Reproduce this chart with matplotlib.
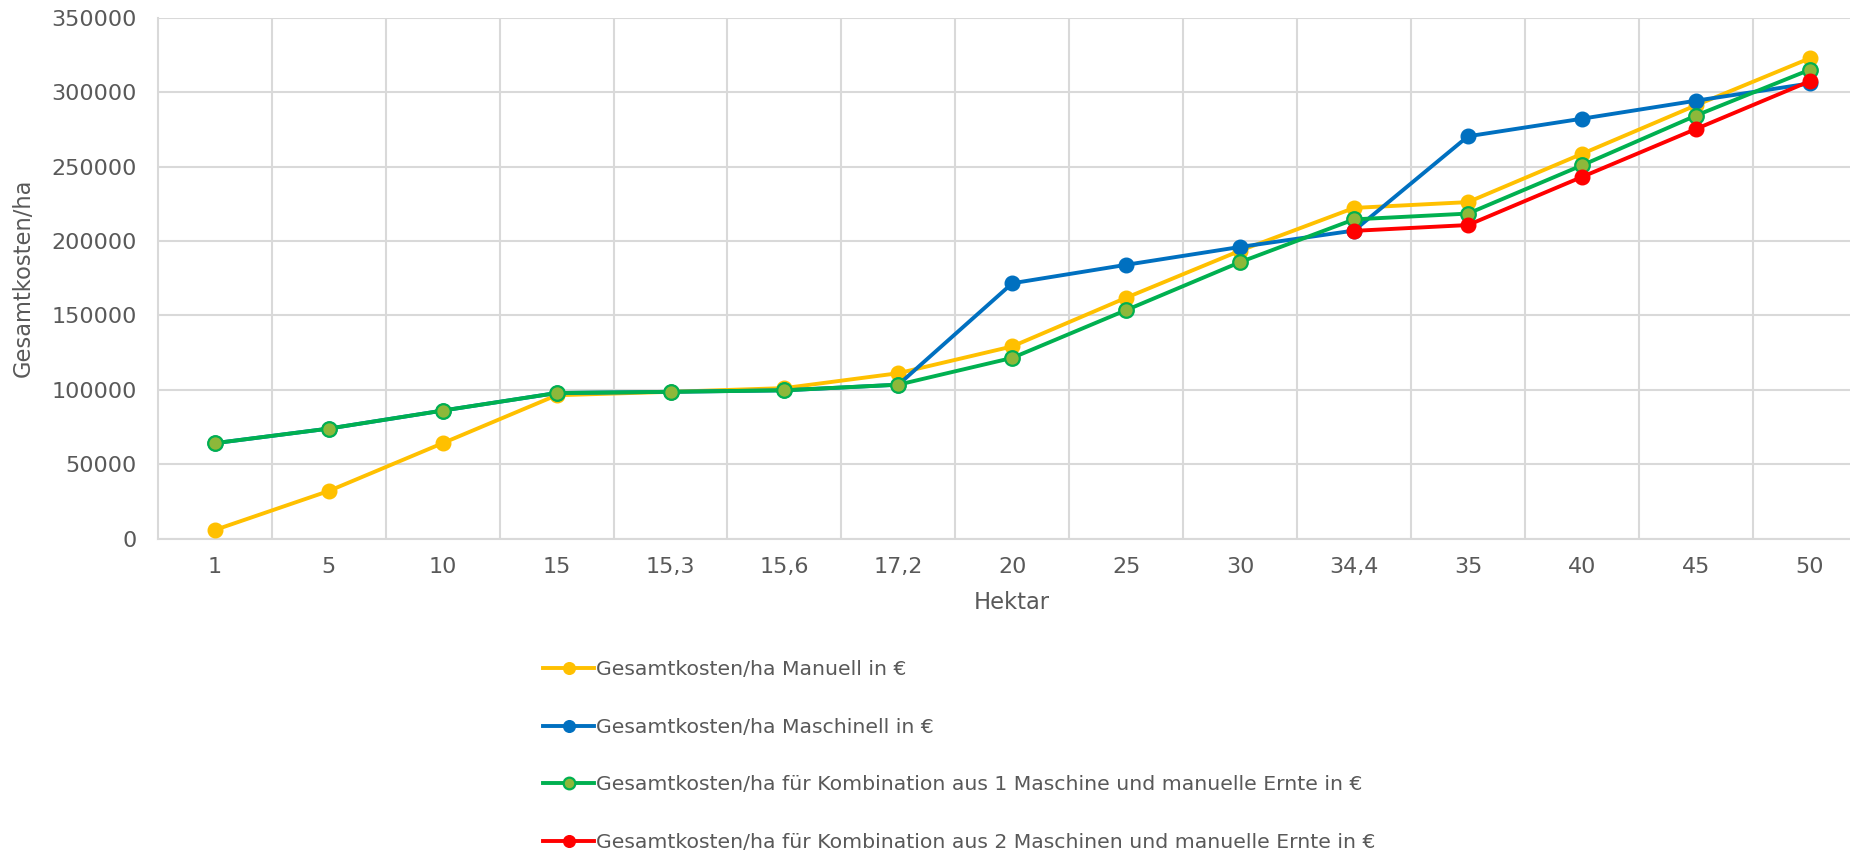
import matplotlib.pyplot as plt
import numpy as np

# Hektar-Kategorien und Gesamtkosten je Variante
hektar = ["1", "5", "10", "15", "15,3", "15,6", "17,2", "20", "25", "30", "34,4", "35", "40", "45", "50"]
manuell = [5900, 32100, 64200, 96400, 98700, 101200, 111200, 129200, 161900, 193500, 222200, 226100, 258500, 291100, 322700]
maschinell = [64200, 74000, 86100, 97900, 98700, 99700, 103500, 171600, 184000, 196000, 207000, 270300, 282100, 294200, 305800]
kombi_1 = [64200, 74000, 86100, 97900, 98700, 99700, 103500, 121500, 153600, 185800, 214500, 218400, 250800, 284200, 315000]
kombi_2 = [np.nan] * 10 + [206800, 210700, 243000, 275200, 307300]

labels = [
    "Gesamtkosten/ha Manuell in €",
    "Gesamtkosten/ha Maschinell in €",
    "Gesamtkosten/ha für Kombination aus 1 Maschine und manuelle Ernte in €",
    "Gesamtkosten/ha für Kombination aus 2 Maschinen und manuelle Ernte in €",
]

plt.rcParams['font.family'] = ['DejaVu Sans']
text_color = '#595959'
grid_color = '#D9D9D9'

fig = plt.figure(figsize=(18.5, 8.57), dpi=100)
ax = fig.add_axes([157.8 / 1850, 1 - 538.8 / 857, 1709 / 1850, 521.2 / 857])

x = np.arange(len(hektar))
lw = 2.8
ms = 10.5
ax.plot(x, manuell, color='#FFC000', lw=lw, marker='o', ms=ms, label=labels[0], zorder=3)
ax.plot(x, maschinell, color='#0070C0', lw=lw, marker='o', ms=ms, label=labels[1], zorder=4)
ax.plot(x, kombi_1, color='#00B050', lw=lw, marker='o', ms=ms, markerfacecolor='#8DB83A',
        markeredgecolor='#00B050', markeredgewidth=1.6, label=labels[2], zorder=5)
ax.plot(x, kombi_2, color='#FF0000', lw=lw, marker='o', ms=ms, label=labels[3], zorder=6)

ax.set_xlim(-0.5, len(hektar) - 0.5)
ax.set_ylim(0, 350000)
ax.set_yticks(np.arange(0, 350001, 50000))
ax.set_xticks(x)
ax.set_xticklabels(hektar)
ax.set_xticks(np.arange(0.5, len(hektar) - 1, 1), minor=True)

ax.grid(axis='y', which='major', color=grid_color, lw=1.5, zorder=0)
ax.grid(axis='x', which='minor', color=grid_color, lw=1.5, zorder=0)
ax.tick_params(axis='both', which='both', length=0, labelsize=16, labelcolor=text_color)
ax.tick_params(axis='y', pad=15)
ax.tick_params(axis='x', pad=13)

for side in ['top', 'right']:
    ax.spines[side].set_visible(False)
for side in ['left', 'bottom']:
    ax.spines[side].set_color(grid_color)
    ax.spines[side].set_linewidth(1.5)

ax.set_ylabel("Gesamtkosten/ha", fontsize=16.3, color=text_color, labelpad=12)
ax.set_xlabel("Hektar", fontsize=16.3, color=text_color, labelpad=10)

fig.legend(loc='upper left', bbox_to_anchor=(533 / 1850, 1 - 650 / 857), frameon=False,
           fontsize=14.7, labelcolor=text_color, handlelength=2.5, handletextpad=0.1,
           labelspacing=1.89, borderpad=0, numpoints=1, markerscale=0.8)

fig.savefig("out.png", dpi=100)
